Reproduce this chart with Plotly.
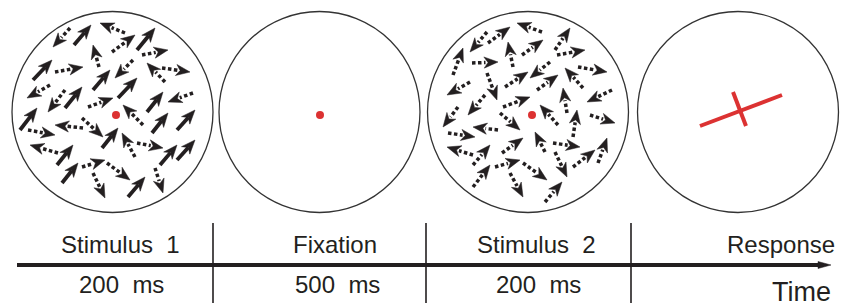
import math
import plotly.graph_objects as go

# ---------------- data ----------------
panel_names = ["Stimulus\u00a0\u00a01", "Fixation", "Stimulus\u00a0\u00a02", "Response"]
durations = ["200\u00a0\u00a0ms", "500\u00a0\u00a0ms", "200\u00a0\u00a0ms"]
axis_label = "Time"

circle_cx = [112.5, 319.5, 528, 738]
circle_cy = [112, 112, 112, 112]

fix_x = [116, 320, 532]
fix_y = [115, 115, 115]

# stimulus 1 arrows: tail -> head, kind S = solid (coherent), D = dotted (noise)
s1_tx = [70, 74, 125, 112, 137, 99, 142, 33, 55, 93, 133, 165, 162, 50, 65, 65, 118, 88, 147, 193,
         20, 143, 152, 177, 28, 83, 82, 102, 135, 137, 58, 57, 62, 82, 107, 93, 128, 155, 160, 177]
s1_ty = [28, 45, 33, 52, 50, 67, 55, 80, 72, 90, 60, 82, 68, 85, 90, 108, 98, 107, 112, 93,
         130, 125, 133, 130, 130, 128, 118, 148, 157, 143, 153, 165, 183, 167, 163, 173, 197, 168, 165, 160]
s1_hx = [53, 91, 100, 135, 155, 93, 168, 52, 83, 110, 115, 147, 190, 27, 48, 82, 137, 113, 163, 168,
         37, 123, 168, 195, 55, 55, 103, 118, 122, 163, 30, 73, 78, 105, 130, 105, 145, 163, 177, 195]
s1_hy = [47, 25, 23, 35, 28, 45, 50, 60, 67, 70, 78, 63, 72, 98, 112, 87, 78, 98, 92, 102,
         108, 105, 113, 110, 135, 125, 137, 128, 133, 148, 145, 145, 163, 160, 180, 198, 177, 193, 145, 140]
s1_kind = ["D", "S", "D", "D", "S", "D", "D", "S", "D", "S", "D", "D", "D", "D", "D", "S", "S", "D", "S", "D",
           "S", "D", "S", "S", "D", "D", "D", "S", "D", "D", "D", "S", "S", "D", "D", "D", "S", "D", "S", "S"]

# stimulus 2 arrows (all noise)
s2_tx = [487, 488, 542, 453, 513, 522, 555, 557, 472, 487, 550, 505, 537, 583, 578, 470, 567, 612, 485, 503,
         458, 558, 590, 573, 500, 498, 448, 545, 553, 502, 473, 473, 555, 573, 598, 495, 523, 473, 510, 545]
s2_ty = [32, 43, 32, 75, 67, 55, 50, 55, 63, 73, 62, 87, 90, 88, 67, 82, 113, 90, 95, 107,
         107, 125, 115, 137, 113, 130, 133, 152, 143, 153, 155, 165, 152, 167, 163, 167, 163, 187, 173, 202]
s2_hx = [470, 510, 517, 463, 508, 543, 570, 585, 498, 497, 530, 528, 558, 565, 607, 447, 563, 587, 468, 530,
         443, 540, 615, 577, 520, 473, 475, 535, 580, 523, 447, 490, 567, 595, 607, 520, 547, 490, 523, 562]
s2_hy = [52, 27, 23, 48, 42, 40, 28, 50, 62, 100, 78, 72, 75, 68, 72, 95, 88, 102, 115, 97,
         127, 105, 123, 110, 130, 127, 137, 132, 147, 138, 147, 145, 177, 150, 138, 160, 180, 165, 197, 182]
s2_kind = ["D"] * len(s2_tx)

# response bar (long line and short crossing mark)
resp_x = [700, 782, None, 733, 746]
resp_y = [126, 95, None, 92, 126]

label_x = [120, 335, 536, 837]
dur_x = [121, 337, 538]
sep_x = [213, 426, 631]

# ---------------- styles ----------------
INK = "#231f20"
RED = "#dc3232"
FONT = "Liberation Sans, Arial, Helvetica, sans-serif"
R = 100.5
HEAD_L, HEAD_W, NOTCH = 14.0, 5.6, 4.0


def build(tx, ty, hx, hy, kind):
    solid_x, solid_y, dot_x, dot_y, head_x, head_y = [], [], [], [], [], []
    for x0, y0, x1, y1, k in zip(tx, ty, hx, hy, kind):
        dx, dy = x1 - x0, y1 - y0
        n = math.hypot(dx, dy)
        ux, uy = dx / n, dy / n
        px, py = -uy, ux
        bx, by = x1 - HEAD_L * ux, y1 - HEAD_L * uy
        nx, ny = x1 - (HEAD_L - NOTCH) * ux, y1 - (HEAD_L - NOTCH) * uy
        head_x += [x1, bx + HEAD_W * px, nx, bx - HEAD_W * px, x1, None]
        head_y += [y1, by + HEAD_W * py, ny, by - HEAD_W * py, y1, None]
        if k == "S":
            solid_x += [x0, nx, None]
            solid_y += [y0, ny, None]
        else:
            dot_x += [x0, bx + 1.5 * ux, None]
            dot_y += [y0, by + 1.5 * uy, None]
    return solid_x, solid_y, dot_x, dot_y, head_x, head_y


fig = go.Figure()

for tx, ty, hx, hy, kind in [(s1_tx, s1_ty, s1_hx, s1_hy, s1_kind),
                             (s2_tx, s2_ty, s2_hx, s2_hy, s2_kind)]:
    sx, sy, dx_, dy_, hx_, hy_ = build(tx, ty, hx, hy, kind)
    if sx:
        fig.add_trace(go.Scatter(x=sx, y=sy, mode="lines",
                                 line=dict(color=INK, width=3.8), hoverinfo="skip"))
    if dx_:
        fig.add_trace(go.Scatter(x=dx_, y=dy_, mode="lines",
                                 line=dict(color=INK, width=3.5, dash="3.5px,2.5px"), hoverinfo="skip"))
    fig.add_trace(go.Scatter(x=hx_, y=hy_, mode="lines", fill="toself", fillcolor=INK,
                             line=dict(color=INK, width=0.5), hoverinfo="skip"))

# fixation dots
fig.add_trace(go.Scatter(x=fix_x, y=fix_y, mode="markers",
                         marker=dict(color=RED, size=8, line=dict(width=0)), hoverinfo="skip"))
# response marker
fig.add_trace(go.Scatter(x=resp_x, y=resp_y, mode="lines",
                         line=dict(color=RED, width=4), hoverinfo="skip"))

shapes = []
for cx, cy in zip(circle_cx, circle_cy):
    shapes.append(dict(type="circle", xref="x", yref="y", x0=cx - R, x1=cx + R, y0=cy - R, y1=cy + R,
                       line=dict(color="#333333", width=1.3)))
# timeline
TL_Y = 265
shapes.append(dict(type="line", xref="x", yref="y", x0=17, x1=820, y0=TL_Y, y1=TL_Y,
                   line=dict(color=INK, width=4)))
shapes.append(dict(type="path", xref="x", yref="y",
                   path=f"M 818 {TL_Y-3.5} L 831 {TL_Y} L 818 {TL_Y+3.5} Z",
                   fillcolor=INK, line=dict(color=INK, width=0.5)))
for sx in sep_x:
    shapes.append(dict(type="line", xref="x", yref="y", x0=sx, x1=sx, y0=223, y1=303,
                       line=dict(color=INK, width=1.6)))

annotations = []
for i, (t, x) in enumerate(zip(panel_names, label_x)):
    annotations.append(dict(x=x, y=244.5, xref="x", yref="y", text=t, showarrow=False,
                            xanchor="right" if i == 3 else "center", yanchor="middle",
                            font=dict(family=FONT, size=24, color=INK)))
for t, x in zip(durations, dur_x):
    annotations.append(dict(x=x, y=284.5, xref="x", yref="y", text=t, showarrow=False,
                            xanchor="center", yanchor="middle",
                            font=dict(family=FONT, size=24, color=INK)))
annotations.append(dict(x=833, y=292, xref="x", yref="y", text=axis_label, showarrow=False,
                        xanchor="right", yanchor="middle",
                        font=dict(family=FONT, size=27, color=INK)))

fig.update_layout(
    width=846, height=306,
    margin=dict(l=0, r=0, t=0, b=0),
    paper_bgcolor="white", plot_bgcolor="white",
    showlegend=False,
    xaxis=dict(range=[0, 846], visible=False, fixedrange=True),
    yaxis=dict(range=[306, 0], visible=False, fixedrange=True),
    shapes=shapes, annotations=annotations,
)

fig.write_html("out.html", config={"displayModeBar": False},
               post_script="document.body.style.margin='0';document.body.style.overflow='hidden';")
